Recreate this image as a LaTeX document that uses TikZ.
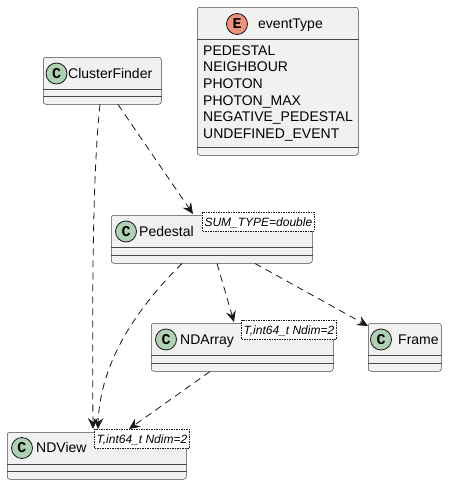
\documentclass[tikz,border=0pt]{standalone}
\usepackage{fontspec}
\setmainfont{Liberation Sans}
\newfontfamily\spotfont{Liberation Mono}
\usetikzlibrary{calc,arrows.meta}
\definecolor{boxfill}{HTML}{F1F1F1}
\definecolor{boxline}{HTML}{181818}
\definecolor{spotC}{HTML}{ADD1B2}
\definecolor{spotE}{HTML}{EB937F}
\tikzset{
  umlbox/.style={draw=boxline!80, line width=0.5pt, fill=boxfill, rounded corners=2.5pt, inner sep=0pt},
  sepline/.style={draw=boxline!80, line width=0.5pt},
  spot/.style={circle, draw=boxline, line width=0.8pt, minimum size=21pt, inner sep=0pt, font=\spotfont\bfseries\fontsize{15}{15}\selectfont},
  classname/.style={anchor=base west, inner sep=0pt, font=\fontsize{14}{16}\selectfont},
  tmpl/.style={draw=boxline, line width=0.5pt, dash pattern=on 1.5pt off 1pt, fill=white, anchor=north east, inner xsep=2pt, inner ysep=0pt, minimum height=19pt, text height=11pt, text depth=1pt, font=\itshape\fontsize{12}{14}\selectfont},
  dep/.style={draw=boxline, line width=0.8pt, dash pattern=on 7pt off 5pt, -{Stealth[length=11pt,width=10pt,inset=4pt]}},
}
%クラスの枠: 名前, 左上x, 左上y, 幅, 高さ
\newcommand{\umlclass}[5]{
\node[umlbox, anchor=north west, minimum width=#4pt, minimum height=#5pt] (#1) at (#2,#3) {};
\draw[sepline] ($(#1.north west)+(0,32)$) -- ($(#1.north east)+(0,32)$); %見出しの下の線
\draw[sepline] ($(#1.south west)+(0,-8)$) -- ($(#1.south east)+(0,-8)$); %属性の下の線
}

\begin{document}
\begin{tikzpicture}[x=1pt, y=-1pt]
\useasboundingbox (0,0) rectangle (448,485);

%列挙型 eventType
\umlclass{EV}{197}{7}{161}{148}
\node[spot, fill=spotE] (EVs) at ($(EV.north west)+(40,17)$) {E};
\node[classname] (EVn) at ($(EV.north west)+(61,21.5)$) {eventType};
\node[classname] (EV1) at ($(EV.north west)+(6,48)$) {PEDESTAL};
\node[classname] (EV2) at ($(EV1.base west)+(0,16.67)$) {NEIGHBOUR};
\node[classname] (EV3) at ($(EV2.base west)+(0,16.67)$) {PHOTON};
\node[classname] (EV4) at ($(EV3.base west)+(0,16.67)$) {PHOTON\_MAX};
\node[classname] (EV5) at ($(EV4.base west)+(0,16.67)$) {NEGATIVE\_PEDESTAL};
\node[classname] (EV6) at ($(EV5.base west)+(0,16.67)$) {UNDEFINED\_EVENT};

%クラス
\umlclass{CF}{43}{57}{118}{47}
\node[spot, fill=spotC] (CFs) at ($(CF.north west)+(13.5,16.5)$) {C};
\node[classname] (CFn) at ($(CF.north west)+(25,21)$) {ClusterFinder};

\umlclass{PD}{111}{215}{201}{48}
\node[spot, fill=spotC] (PDs) at ($(PD.north west)+(15,16.5)$) {C};
\node[classname] (PDn) at ($(PD.north west)+(28,21)$) {Pedestal};

\umlclass{NA}{151}{323}{182}{48}
\node[spot, fill=spotC] (NAs) at ($(NA.north west)+(15,16.5)$) {C};
\node[classname] (NAn) at ($(NA.north west)+(29,21)$) {NDArray};

\umlclass{FR}{368}{323}{73}{48}
\node[spot, fill=spotC] (FRs) at ($(FR.north west)+(13,16.5)$) {C};
\node[classname] (FRn) at ($(FR.north west)+(30,21)$) {Frame};

\umlclass{NV}{7}{432}{179}{47}
\node[spot, fill=spotC] (NVs) at ($(NV.north west)+(15,16)$) {C};
\node[classname] (NVn) at ($(NV.north west)+(29,20)$) {NDView};

%テンプレート引数
\node[tmpl] (PDt) at ($(PD.north east)+(2,-3)$) {SUM\_TYPE=double};
\node[tmpl] (NAt) at ($(NA.north east)+(3,-3)$) {T,int64\_t Ndim=2};
\node[tmpl] (NVt) at ($(NV.north east)+(3,-3)$) {T,int64\_t Ndim=2};

%依存関係の矢印
\draw[dep] ($(CF.south west)+(57,0)$) .. controls (93,170) and (92,280) .. ($(NV.north west)+(86,-3)$);
\draw[dep] ($(CF.south west)+(75,0)$) -- ($(PD.north west)+(82,-1)$);
\draw[dep] ($(PD.south west)+(71,0)$) .. controls (140,305) and (100,360) .. ($(NV.north west)+(91,-3)$);
\draw[dep] ($(PD.south west)+(106,0)$) -- ($(NA.north west)+(83,-1)$);
\draw[dep] ($(PD.south west)+(144,0)$) -- ($(FR.north west)+(0,3)$);
\draw[dep] ($(NA.south west)+(59,0)$) -- ($(NV.north west)+(122,-3)$);
\end{tikzpicture}
\end{document}
